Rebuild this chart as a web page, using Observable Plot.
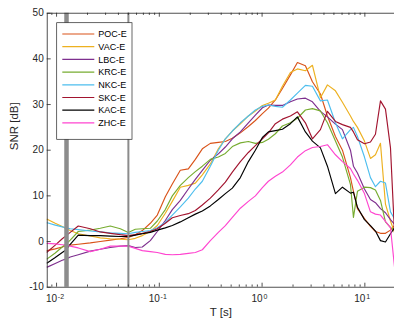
<!DOCTYPE html>
<html><head><meta charset="utf-8">
<script src="https://cdn.jsdelivr.net/npm/d3@7"></script>
<script src="https://cdn.jsdelivr.net/npm/@observablehq/plot@0.6"></script>
<style>
html,body{margin:0;padding:0;background:#fff;}
#chart{width:394px;height:322px;overflow:hidden;}
</style></head><body><div id="chart"></div>
<script>
// Period grid T [s]
const periods = [0.00811,0.00971,0.01136,0.01243,0.01359,0.01627,0.02129,0.02664,0.03333,0.04172,
  0.04991,0.0584,0.06832,0.08174,0.09561,0.1144,0.1338,0.1601,0.1916,0.2241,
  0.2622,0.3137,0.3753,0.4391,0.5137,0.6146,0.7355,0.8604,1.007,1.152,
  1.347,1.577,1.886,2.207,2.64,3.089,3.696,4.324,5.173,6.052,
  7.242,7.745,8.472,9.911,11.34,12.68,14.19,15.87,17.76,19.43];

const seriesNames = ["POC-E","VAC-E","LBC-E","KRC-E","NKC-E","SKC-E","KAC-E","ZHC-E"];
const seriesColors = ["#d95319","#edb120","#7e2f8e","#77ac30","#4dbeee","#a2142f","#000000","#ff45d0"];

const pocE = [-2.0,-1.6,-1.2,-0.9,-0.8,-0.6,-0.3,0.0,0.3,0.6,0.9,1.5,2.4,4.0,5.8,9.8,12.6,15.6,15.9,18.0,20.3,21.5,21.7,21.9,22.6,23.8,25.2,26.5,28.0,29.2,31.0,33.5,36.5,39.2,38.5,35.0,32.3,27.5,23.0,20.0,14.0,11.0,7.2,5.0,3.3,2.2,1.8,1.8,2.5,3.5];
const vacE = [4.9,4.0,3.3,2.8,2.4,1.7,1.2,0.8,0.6,0.5,0.4,0.7,1.3,2.2,3.5,6.2,8.8,11.9,12.3,12.8,14.6,17.0,20.3,22.5,24.2,25.8,27.5,28.6,29.8,30.3,31.0,34.0,37.0,37.8,37.4,38.6,31.5,34.3,33.0,30.5,27.5,26.3,25.0,22.0,18.2,19.0,21.5,8.2,4.5,2.0];
const lbcE = [-5.6,-4.8,-4.1,-3.8,-3.4,-2.9,-2.1,-1.7,-1.3,-1.0,-0.9,-1.3,-1.2,0.2,2.2,4.6,7.0,9.0,11.5,13.6,15.6,17.8,19.2,20.7,22.5,24.0,26.0,27.7,29.3,29.9,29.8,29.8,30.6,31.2,31.4,30.6,28.5,27.3,25.7,24.5,20.0,16.5,15.0,11.5,9.2,8.5,7.2,6.3,4.8,3.8];
const krcE = [-3.8,-2.5,-1.2,-0.5,0.3,2.2,2.5,2.9,3.4,2.8,2.0,2.7,2.8,2.9,4.5,7.0,10.0,12.3,14.0,15.3,16.5,18.0,18.5,19.3,20.8,21.6,21.9,21.5,21.7,22.4,23.6,25.3,26.0,27.0,28.8,29.1,28.6,26.0,22.0,18.5,12.5,5.3,11.0,11.9,11.8,11.3,9.0,4.3,3.1,2.4];
const nkcE = [4.1,3.6,3.2,3.0,2.8,2.6,2.3,2.1,1.9,1.8,1.7,2.0,2.2,2.4,3.0,4.2,5.8,7.6,9.5,11.5,13.2,16.5,20.0,22.5,24.2,26.0,27.5,28.8,29.6,29.9,29.6,29.4,31.0,32.5,34.2,34.0,30.8,31.0,26.0,22.5,24.5,25.0,23.0,18.5,14.0,12.0,13.2,12.8,6.5,5.0];
const skcE = [-2.3,-0.8,0.6,1.3,2.0,3.4,2.8,2.1,1.8,1.5,1.3,1.5,1.8,2.2,2.8,4.0,5.2,5.7,6.1,6.8,8.0,9.5,11.3,13.0,15.2,17.5,19.5,21.0,22.5,23.8,25.8,26.8,27.5,28.4,26.0,22.5,24.5,28.5,26.3,25.6,25.0,24.0,22.3,21.4,21.8,23.5,30.8,29.0,20.5,2.0];
const kacE = [-4.7,-3.5,-2.4,-1.8,-0.6,1.4,1.3,1.3,1.2,1.1,1.1,1.4,1.7,2.0,2.5,3.0,3.5,4.3,5.2,6.0,6.7,7.8,9.2,10.5,11.7,14.0,17.5,20.0,22.8,24.0,24.3,24.6,25.8,27.3,24.0,22.0,20.5,16.5,10.5,11.9,10.6,10.8,7.5,4.8,3.5,2.3,0.2,-0.1,1.7,3.0];
const zhcE = [-0.4,-0.5,-0.7,-0.8,-1.0,-1.4,-2.2,-1.7,-1.0,-1.0,-1.0,-1.5,-2.0,-2.2,-2.4,-2.8,-2.9,-2.8,-2.6,-2.4,-1.8,0.2,2.0,3.5,5.3,7.3,8.8,10.0,11.8,13.2,14.3,15.2,16.8,18.5,19.9,20.6,20.8,21.2,19.0,17.5,16.0,14.8,13.4,10.5,6.5,6.0,5.8,4.4,3.0,-5.5];

const seriesValues = [pocE, vacE, lbcE, krcE, nkcE, skcE, kacE, zhcE];

const markerPeriods = [0.0125, 0.05];
const yTicks = [-10,0,10,20,30,40,50];
const xMajorTicks = [0.01,0.1,1,10];
const xExponents = ["-2","-1","0","1"];
const xMinorTicks = [0.009,0.02,0.03,0.04,0.05,0.06,0.07,0.08,0.09,0.2,0.3,0.4,0.5,0.6,0.7,0.8,0.9,2,3,4,5,6,7,8,9];

const rows = seriesNames.flatMap((name, i) => seriesValues[i].map((v, j) => ({T: periods[j], snr: v, name})));

const W = 394, H = 322;
const mL = 46.7, mR = 0, mT = 12.7, mB = 35.3;
const frameW = W - mL - mR, frameH = H - mT - mB;
const font = "'Liberation Sans', Arial, Helvetica, sans-serif";
const axisCol = "#262626";

const plot = Plot.plot({
  width: W, height: H,
  marginLeft: mL, marginRight: mR, marginTop: mT, marginBottom: mB,
  x: {type: "log", domain: [0.00811, 19.43], axis: null},
  y: {domain: [-10, 50], axis: null},
  color: {domain: seriesNames, range: seriesColors},
  style: {fontFamily: font, background: "#fff", overflow: "visible"},
  marks: [
    Plot.line(rows, {x: "T", y: "snr", z: "name", stroke: "name", strokeWidth: 1.15}),
    Plot.ruleX([markerPeriods[0]], {x: d => d, stroke: "#8c8c8c", strokeWidth: 4.5}),
    Plot.ruleX([markerPeriods[1]], {x: d => d, stroke: "#8c8c8c", strokeWidth: 2}),
    Plot.frame({stroke: axisCol, strokeWidth: 0.8}),
    Plot.tickX(xMajorTicks, {x: d => d, insetTop: frameH - 4, stroke: axisCol, strokeWidth: 0.8}),
    Plot.tickX(xMajorTicks, {x: d => d, insetBottom: frameH - 4, stroke: axisCol, strokeWidth: 0.8}),
    Plot.tickX(xMinorTicks, {x: d => d, insetTop: frameH - 2.2, stroke: axisCol, strokeWidth: 0.8}),
    Plot.tickX(xMinorTicks, {x: d => d, insetBottom: frameH - 2.2, stroke: axisCol, strokeWidth: 0.8}),
    Plot.tickY(yTicks, {y: d => d, insetRight: frameW - 4, stroke: axisCol, strokeWidth: 0.8}),
    Plot.text(yTicks, {y: d => d, text: d => String(d), frameAnchor: "left", textAnchor: "end", dx: -3.5, fontSize: 10, fill: axisCol}),
    Plot.text(xMajorTicks, {x: d => d, text: () => "10", frameAnchor: "bottom", textAnchor: "end", dx: 0.5, dy: 14.8, fontSize: 10, fill: axisCol}),
    Plot.text(xMajorTicks, {x: d => d, text: d => xExponents[xMajorTicks.indexOf(d)], frameAnchor: "bottom", textAnchor: "start", dx: 1.3, dy: 11.3, fontSize: 7, fill: axisCol}),
    Plot.text(["T [s]"], {text: d => d, frameAnchor: "bottom", dy: 28.3, fontSize: 11.5, fill: axisCol}),
    Plot.text(["SNR [dB]"], {text: d => d, frameAnchor: "left", dx: -32.7, rotate: -90, fontSize: 11.5, fill: axisCol})
  ]
});

// legend (MATLAB style box, top-left inside axes)
const svg = d3.select(plot);
const lg = svg.append("g").attr("font-family", font).attr("text-anchor", "start");
lg.append("rect").attr("x", 56.7).attr("y", 22.7).attr("width", 75.3).attr("height", 116.6)
  .attr("fill", "#fff").attr("stroke", axisCol).attr("stroke-width", 0.7);
seriesNames.forEach((name, i) => {
  const y = 34 + i * 12.7;
  lg.append("line").attr("x1", 62.3).attr("x2", 94.3).attr("y1", y).attr("y2", y)
    .attr("stroke", seriesColors[i]).attr("stroke-width", 1.2);
  lg.append("text").attr("x", 98.3).attr("y", y).attr("dy", "0.35em")
    .attr("text-anchor", "start").attr("font-size", 9).attr("fill", "#000").text(name);
});

document.getElementById("chart").appendChild(plot);
</script>
</body></html>
